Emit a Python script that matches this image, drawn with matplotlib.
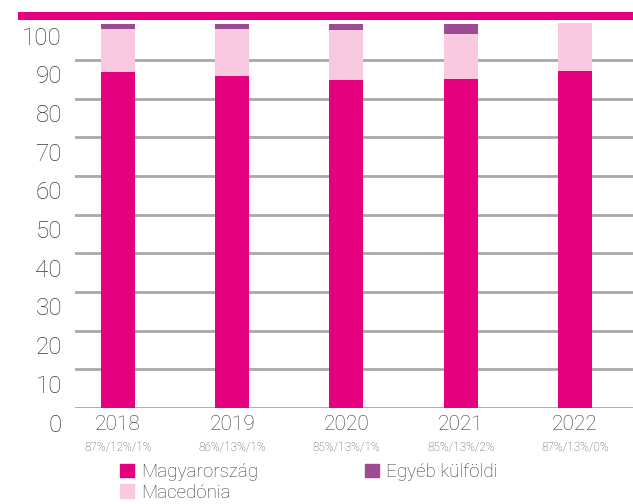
import matplotlib
matplotlib.use('Agg')
import matplotlib.pyplot as plt
from matplotlib.transforms import ScaledTranslation, blended_transform_factory
from matplotlib.patches import Patch

years = ['2018', '2019', '2020', '2021', '2022']
share_labels = ['87%/12%/1%', '86%/13%/1%', '85%/13%/1%', '85%/13%/2%', '87%/13%/0%']
magyarorszag = [86.9, 85.9, 84.8, 85.1, 87.1]
macedonia = [11.1, 12.1, 12.9, 11.6, 12.5]
egyeb = [1.3, 1.3, 1.6, 2.6, 0.0]
yticks = list(range(0, 101, 10))

c_mag = '#E5007E'
c_mac = '#F8C9DF'
c_egy = '#9E4B93'
grey = '#A8A8A8'
txt = '#3A3A3A'

plt.rcParams['font.family'] = ['Roboto', 'DejaVu Sans']
plt.rcParams['font.weight'] = 'light'

W, H = 633, 504
fig = plt.figure(figsize=(W / 100, H / 100), dpi=100)
# 0 sits at y=408 px, 100 at about y=21 px
ax = fig.add_axes([75 / W, (H - 408) / H, (633 - 75) / W, (408 - 21.3) / H])

x = range(len(years))
bw = 0.298
bottom2 = [a + b for a, b in zip(magyarorszag, macedonia)]
ax.bar(x, magyarorszag, width=bw, color=c_mag, zorder=3)
ax.bar(x, macedonia, width=bw, bottom=magyarorszag, color=c_mac, zorder=3)
ax.bar(x, egyeb, width=bw, bottom=bottom2, color=c_egy, zorder=3)

for v in yticks[:-1]:
    ax.axhline(v, color=grey, lw=2, zorder=1)

ax.set_xlim(-0.376, 4.508)
ax.set_ylim(0, 100)
ax.set_xticks([])
ax.set_yticks([])
for s in ax.spines.values():
    s.set_visible(False)

# y labels sit below their gridlines
ytr = blended_transform_factory(fig.transFigure, ax.transData) + ScaledTranslation(0, -0.17, fig.dpi_scale_trans)
for v in yticks:
    fig.text(62 / W, v, str(v), transform=ytr, ha='right', va='center',
             fontsize=17.5, color=txt)

xtr1 = ax.get_xaxis_transform() + ScaledTranslation(0, -0.16, fig.dpi_scale_trans)
xtr2 = ax.get_xaxis_transform() + ScaledTranslation(0, -0.40, fig.dpi_scale_trans)
for i, (yr, lab) in enumerate(zip(years, share_labels)):
    ax.text(i, 0, yr, transform=xtr1, ha='center', va='center', fontsize=15, color=txt)
    ax.text(i, 0, lab, transform=xtr2, ha='center', va='center', fontsize=8.5, color='#555555')

# thick magenta rule at the top
fig.add_artist(plt.Line2D([22 / W, 1], [(H - 16) / H] * 2, color=c_mag, lw=5.8))

handles = [Patch(color=c_mag, label='Magyarország'),
           Patch(color=c_mac, label='Macedónia'),
           Patch(color=c_egy, label='Egyéb külföldi')]
fig.legend(handles=handles, ncol=2, loc='upper left', bbox_to_anchor=(120 / W, (H - 463) / H),
           frameon=False, fontsize=13.5, handlelength=0.75, handleheight=0.75,
           handletextpad=0.37, columnspacing=5.7, labelspacing=0.15, borderaxespad=0,
           borderpad=0, labelcolor=txt)

fig.savefig('out.png', dpi=100)
